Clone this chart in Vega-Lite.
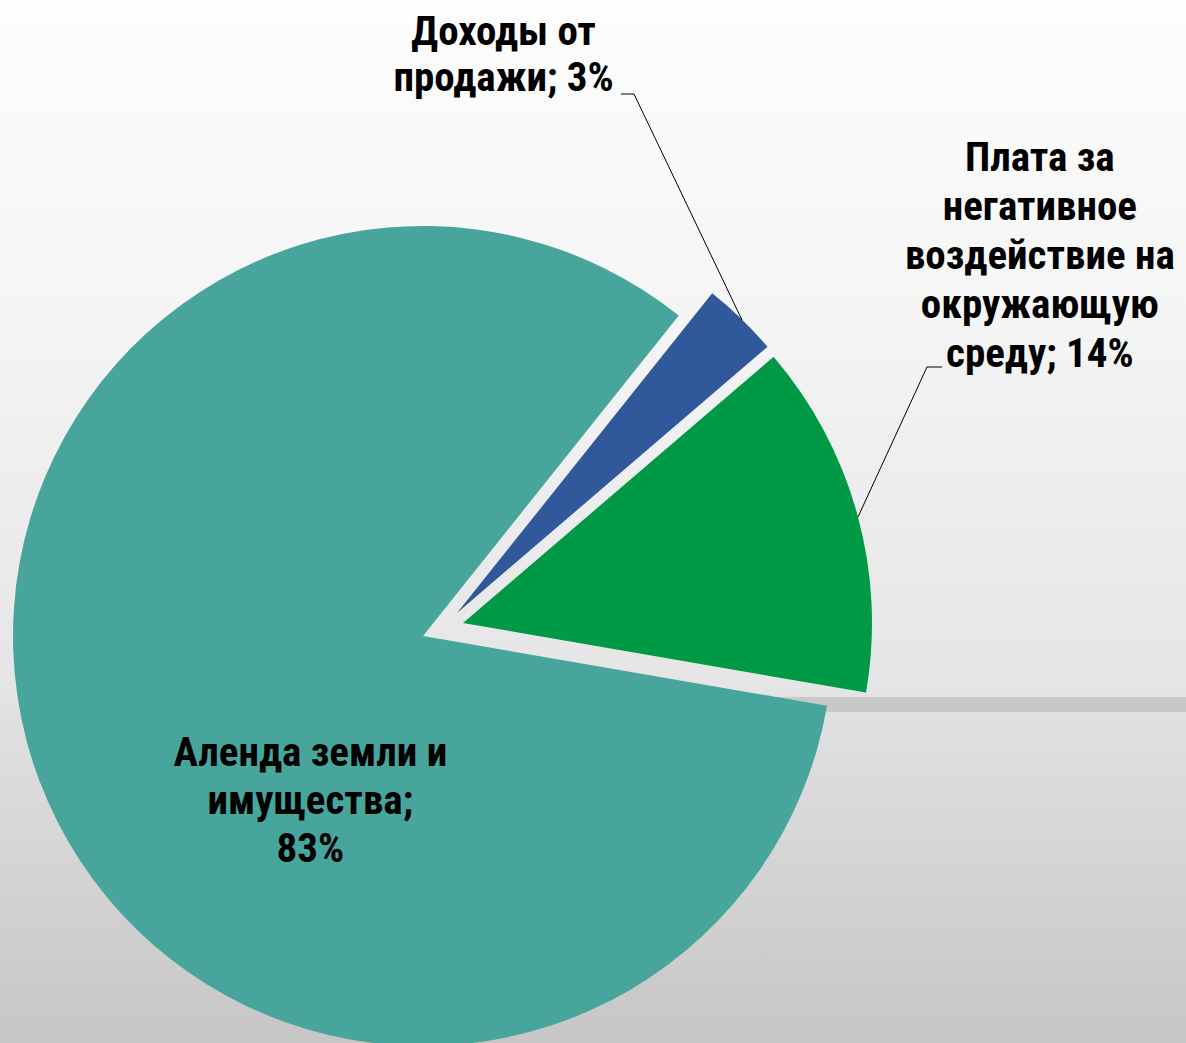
{
  "$schema": "https://vega.github.io/schema/vega-lite/v6.json",
  "width": 1186,
  "height": 1043,
  "padding": 0,
  "autosize": {"type": "none"},
  "background": "#ffffff",
  "config": {
    "view": {"stroke": null},
    "text": {"font": "Liberation Sans Narrow, Roboto Condensed, Arial Narrow, Liberation Sans, sans-serif", "fontWeight": "bold", "fontSize": 41, "fill": "#000000", "lineBreak": "\n"}
  },
  "data": {
    "values": [
      {"category": "Доходы от продажи", "value": 3, "order": 1, "label": "Доходы от\nпродажи; 3%"},
      {"category": "Плата за негативное воздействие на окружающую среду", "value": 14, "order": 2, "label": "Плата за\nнегативное\nвоздействие на\nокружающую\nсреду; 14%"},
      {"category": "Аленда земли и имущества", "value": 83, "order": 3, "label": "Аленда земли и\nимущества;\n83%"}
    ]
  },
  "transform": [
    {"stack": "value", "groupby": [], "sort": [{"field": "order", "order": "ascending"}], "as": ["v0", "v1"]}
  ],
  "layer": [
    {
      "data": {"values": [{"bg": 1}]},
      "mark": {
        "type": "rect", "x": 0, "x2": {"expr": "width"}, "y": 0, "y2": {"expr": "height"},
        "fill": {
          "gradient": "linear", "x1": 0, "y1": 0, "x2": 0, "y2": 1,
          "stops": [
            {"offset": 0, "color": "#fdfdfd"},
            {"offset": 0.3, "color": "#f5f5f5"},
            {"offset": 0.66, "color": "#e5e5e5"},
            {"offset": 0.69, "color": "#e0e0e0"},
            {"offset": 1, "color": "#c6c6c6"}
          ]
        }
      },
      "encoding": {}
    },
    {
      "data": {"values": [{"bar": 1}]},
      "mark": {"type": "rect", "fill": "#c8c8c8"},
      "encoding": {"x": {"value": 700}, "x2": {"value": 1186}, "y": {"value": 697}, "y2": {"value": 712}}
    },
    {
      "transform": [{"filter": "datum.order == 3"}],
      "mark": {"type": "arc", "outerRadius": 410, "xOffset": -170, "yOffset": 114.5, "fill": "#47a59c"},
      "encoding": {
        "theta": {"field": "v0", "type": "quantitative", "scale": {"domain": [0, 100], "range": [0.6737, 6.9569]}},
        "theta2": {"field": "v1"}
      }
    },
    {
      "transform": [{"filter": "datum.order == 1"}],
      "mark": {"type": "arc", "outerRadius": 409, "xOffset": -136, "yOffset": 91.5, "fill": "#31589a"},
      "encoding": {
        "theta": {"field": "v0", "type": "quantitative", "scale": {"domain": [0, 100], "range": [0.6737, 6.9569]}},
        "theta2": {"field": "v1"}
      }
    },
    {
      "transform": [{"filter": "datum.order == 2"}],
      "mark": {"type": "arc", "outerRadius": 409, "xOffset": -130, "yOffset": 101.5, "fill": "#009a47"},
      "encoding": {
        "theta": {"field": "v0", "type": "quantitative", "scale": {"domain": [0, 100], "range": [0.6737, 6.9569]}},
        "theta2": {"field": "v1"}
      }
    },
    {
      "data": {"values": [{"seg": 1}]},
      "mark": {"type": "rule", "stroke": "#000000", "strokeWidth": 1},
      "encoding": {"x": {"value": 621}, "x2": {"value": 634}, "y": {"value": 94}, "y2": {"value": 94}}
    },
    {
      "data": {"values": [{"seg": 2}]},
      "mark": {"type": "rule", "stroke": "#000000", "strokeWidth": 1},
      "encoding": {"x": {"value": 634}, "x2": {"value": 742}, "y": {"value": 94}, "y2": {"value": 320}}
    },
    {
      "data": {"values": [{"seg": 3}]},
      "mark": {"type": "rule", "stroke": "#000000", "strokeWidth": 1},
      "encoding": {"x": {"value": 942}, "x2": {"value": 927}, "y": {"value": 367}, "y2": {"value": 367}}
    },
    {
      "data": {"values": [{"seg": 4}]},
      "mark": {"type": "rule", "stroke": "#000000", "strokeWidth": 1},
      "encoding": {"x": {"value": 927}, "x2": {"value": 858}, "y": {"value": 367}, "y2": {"value": 517}}
    },
    {
      "transform": [{"filter": "datum.order == 1"}, {"calculate": "(datum.v0 + datum.v1) / 2", "as": "vmid"}],
      "mark": {"type": "text", "radius": 450, "xOffset": -151, "yOffset": 107.5, "dx": -251, "dy": -292, "align": "center", "baseline": "top", "lineHeight": 46},
      "encoding": {
        "theta": {"field": "vmid", "type": "quantitative", "scale": {"domain": [0, 100], "range": [0.6737, 6.9569]}},
        "text": {"field": "label"}
      }
    },
    {
      "transform": [{"filter": "datum.order == 2"}, {"calculate": "(datum.v0 + datum.v1) / 2", "as": "vmid"}],
      "mark": {"type": "text", "radius": 450, "xOffset": -151, "yOffset": 107.5, "dx": 164, "dy": -371, "align": "center", "baseline": "top", "lineHeight": 49},
      "encoding": {
        "theta": {"field": "vmid", "type": "quantitative", "scale": {"domain": [0, 100], "range": [0.6737, 6.9569]}},
        "text": {"field": "label"}
      }
    },
    {
      "transform": [{"filter": "datum.order == 3"}, {"calculate": "(datum.v0 + datum.v1) / 2", "as": "vmid"}],
      "mark": {"type": "text", "radius": 250, "xOffset": -151, "yOffset": 107.5, "dx": 102, "dy": 16, "align": "center", "baseline": "top", "lineHeight": 48},
      "encoding": {
        "theta": {"field": "vmid", "type": "quantitative", "scale": {"domain": [0, 100], "range": [0.6737, 6.9569]}},
        "text": {"field": "label"}
      }
    }
  ]
}
